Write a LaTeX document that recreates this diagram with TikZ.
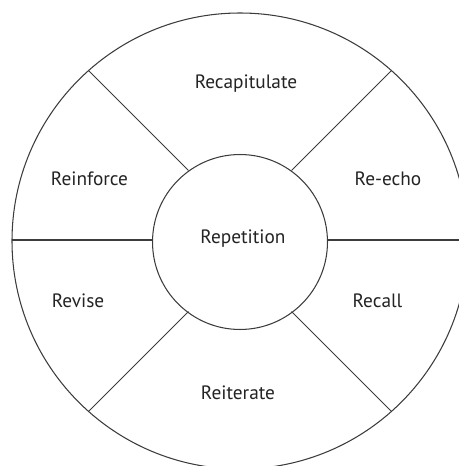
\documentclass[tikz,border=0pt]{standalone}
\usepackage{fontspec}
\setmainfont{PT Sans}
\usepackage{xcolor}
\usepackage{tikz}
\usetikzlibrary{calc}
\definecolor{wheel-line}{RGB}{60, 60, 60}
\definecolor{wheel-text}{RGB}{35, 35, 35}

\begin{document}
\begin{tikzpicture}[x = 0.02cm, y = 0.02cm,
    spoke/.style = {line width = 0.6pt, wheel-line},
    petal/.style = {text = wheel-text, font = \fontsize{11}{13}\selectfont}]
          \clip (-240, -225) rectangle (219, 241);

          \coordinate (origin) at (0, 0);

          % outer rim and hub
          \draw[spoke] (origin) circle [radius = 228];
          \node[circle, draw = wheel-line, line width = 0.6pt, minimum size = 3.5cm,
            inner sep = 0pt, petal] (hub) at ($(origin) + (0, -1)$) {};
          \node[petal] (hub-text) at ($(origin) + (3, 2)$) {Repetition};

          % spoke ends
          \coordinate (ne-in) at ($(origin) + (51.6, 70.6)$);
          \coordinate (ne-out) at ($(origin) + (151.4, 170.4)$);
          \coordinate (nw-in) at ($(origin) + (-51.6, 70.6)$);
          \coordinate (nw-out) at ($(origin) + (-151.4, 170.4)$);
          \coordinate (sw-in) at ($(origin) + (-51.6, -70.6)$);
          \coordinate (sw-out) at ($(origin) + (-151.4, -170.4)$);
          \coordinate (se-in) at ($(origin) + (51.6, -70.6)$);
          \coordinate (se-out) at ($(origin) + (151.4, -170.4)$);
          \coordinate (w-out) at ($(origin) + (-228, 1)$);
          \coordinate (e-out) at ($(origin) + (228, 1)$);

          \draw[spoke] (ne-in) -- (ne-out);
          \draw[spoke] (nw-in) -- (nw-out);
          \draw[spoke] (sw-in) -- (sw-out);
          \draw[spoke] (se-in) -- (se-out);
          \draw[spoke] (hub.west) ++(0, 2) -- (w-out);
          \draw[spoke] (hub.east) ++(0, 2) -- (e-out);

          % labels
          \node[petal] (recapitulate) at ($(origin) + (6, 157)$) {Recapitulate};
          \node[petal] (reinforce) at ($(origin) + (-150.5, 62)$) {Reinforce};
          \node[petal] (re-echo) at ($(origin) + (148, 62.7)$) {Re-echo};
          \node[petal] (revise) at ($(origin) + (-162, -60)$) {Revise};
          \node[petal] (recall) at ($(origin) + (137.5, -60)$) {Recall};
          \node[petal] (reiterate) at ($(origin) + (-2, -152)$) {Reiterate};
        \end{tikzpicture}
\end{document}
